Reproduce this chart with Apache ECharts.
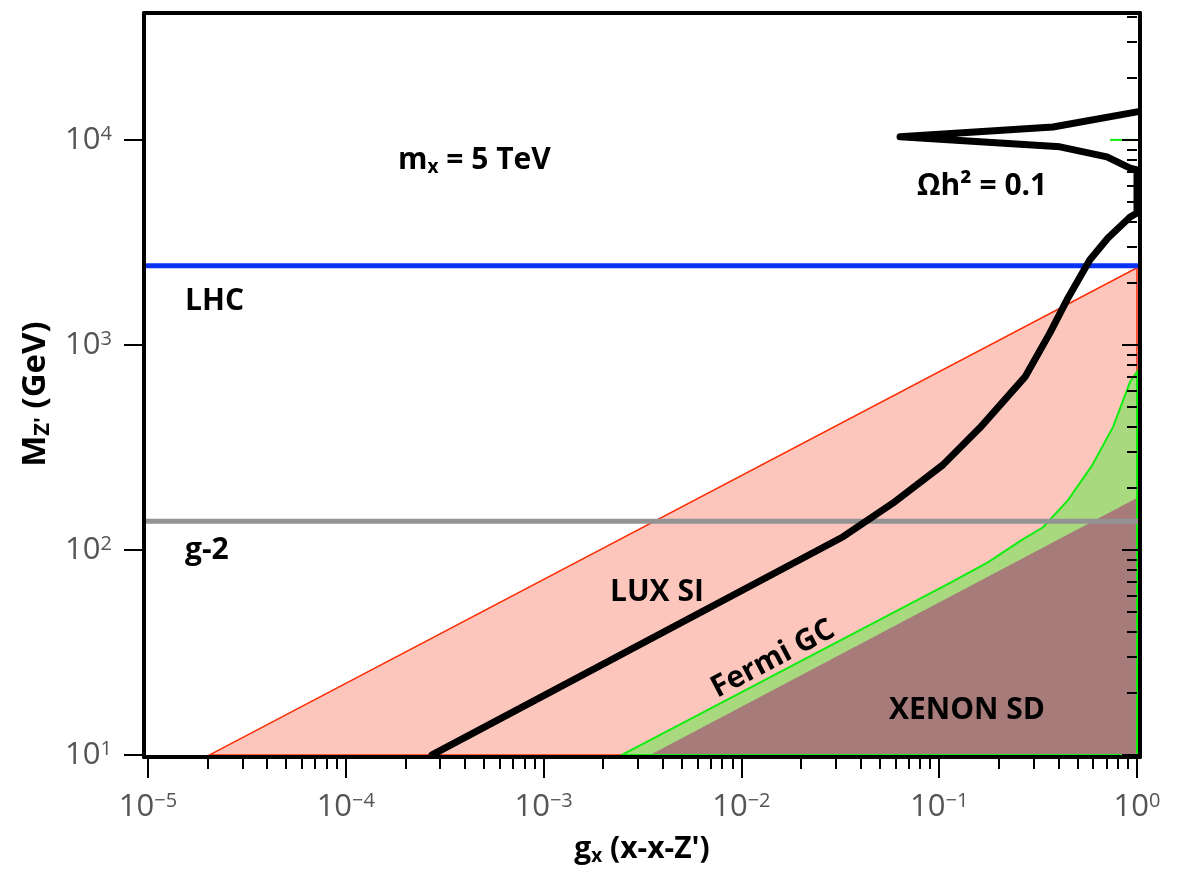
<!DOCTYPE html>
<html><head><meta charset="utf-8">
<script src="https://cdn.jsdelivr.net/npm/echarts@6/dist/echarts.min.js"></script>
<style>html,body{margin:0;padding:0;background:#fff}#c{width:1190px;height:875px}</style>
</head><body><div id="c"></div>
<script>
// ---------------- data ----------------
const xTickExps = [-5, -4, -3, -2, -1, 0];
const yTickExps = [1, 2, 3, 4];
const minorMultiples = [2, 3, 4, 5, 6, 7, 8, 9];

const xRange = [9.546e-6, 1.0356];
const yRange = [9.772, 41590];

// LUX SI excluded region (g_x, M_Z')
const luxG = [2.05e-5, 1.0, 1.0];
const luxM = [10, 2380, 10];

// Fermi GC region
const fermiG = [2.49e-3, 0.1135, 0.177, 0.262, 0.335, 0.448, 0.591, 0.757, 0.923, 1.0, 1.0];
const fermiM = [10, 69.0, 87.3, 112, 129, 175, 257, 398, 661, 738, 10];

// XENON SD region
const xenonG = [3.45e-3, 1.0, 1.0];
const xenonM = [10, 179, 10];

// relic density contour Omega h^2 = 0.1
const relicG = [2.73e-4, 0.0327, 0.0583, 0.1044, 0.1606, 0.2716, 0.363, 0.4426, 0.578, 0.713, 0.923, 1.0, 1.0, 0.923, 0.705, 0.408, 0.0634, 0.376, 1.0];
const relicM = [10, 116, 169, 260, 394, 698, 1145, 1660, 2600, 3325, 4210, 4400, 7140, 7290, 8260, 9250, 10350, 11560, 13700];

// small green stub near 10^4
const stubG = [0.731, 1.0];
const stubM = [10000, 10000];

const lhcM = 2430;
const g2M = 138;

// ---------------- build ----------------
const L = Math.log10;
const xmin = L(xRange[0]), xmax = L(xRange[1]);
const ymin = L(yRange[0]), ymax = L(yRange[1]);
function pts(gs, ms) { return gs.map((g, i) => [L(g), L(ms[i])]); }
function minorTicks(lo, hi) {
  const out = [];
  for (let d = Math.floor(lo) - 1; d <= Math.ceil(hi); d++) {
    for (const k of minorMultiples) { const v = d + L(k); if (v > lo && v < hi) out.push(v); }
  }
  return out;
}
const xMinor = minorTicks(xmin, xmax);
const yMinor = minorTicks(ymin, ymax);

const FONT = 'Open Sans';
const tickRich = {
  b: { fontSize: 31, fontFamily: FONT, color: '#555', lineHeight: 36 },
  s: { fontSize: 20, fontFamily: FONT, color: '#555', lineHeight: 36, padding: [0, 0, 12, 0] }
};
function expFmt(v) {
  const e = Math.round(v);
  return '{b|10}{s|' + (e < 0 ? '\u2212' + (-e) : e) + '}';
}
const tickLine = { color: '#000', width: 2 };
const frameLine = { show: true, onZero: false, lineStyle: { color: '#000', width: 4 } };

function polygonSeries(gs, ms, fill, stroke, lw, z) {
  const data = pts(gs, ms);
  return {
    type: 'custom', data: data, z: z, silent: true,
    renderItem: function (params, api) {
      if (params.dataIndex !== 0) return null;
      const points = data.map(p => api.coord(p));
      return { type: 'polygon', shape: { points: points },
        style: { fill: fill, stroke: stroke, lineWidth: lw, lineJoin: 'miter' } };
    }
  };
}

const boldRich = {
  a: { fontSize: 30, fontWeight: 'bold', fontFamily: FONT, color: '#000', lineHeight: 36 },
  s: { fontSize: 19, fontWeight: 'bold', fontFamily: FONT, color: '#000', lineHeight: 36, padding: [16, 0, 0, 0] }
};
const yNameRich = {
  a: { fontSize: 33, fontWeight: 'bold', fontFamily: FONT, color: '#000', lineHeight: 38 },
  e: { fontSize: 33, fontWeight: 'bold', fontFamily: FONT, color: '#000', lineHeight: 38, padding: [0, 18, 0, 0] },
  s: { fontSize: 22, fontWeight: 'bold', fontFamily: FONT, color: '#000', lineHeight: 38, padding: [16, 0, 0, 0] }
};
function label(x, y, text, extra) {
  return Object.assign({
    type: 'text', x: x, y: y, z: 50, silent: true,
    style: { text: text, rich: boldRich, font: 'bold 30px "Open Sans"', fill: '#000',
      align: 'left', verticalAlign: 'middle' }
  }, extra || {});
}

const option = {
  animation: false,
  backgroundColor: '#fff',
  grid: { left: 144, right: 50, top: 13, bottom: 118, show: false },
  xAxis: [
    { type: 'value', min: xmin, max: xmax, position: 'bottom', z: 10,
      axisLine: frameLine,
      axisTick: { show: true, customValues: xTickExps, length: 21, lineStyle: tickLine },
      axisLabel: { customValues: xTickExps, formatter: expFmt, rich: tickRich, margin: 32 },
      splitLine: { show: false },
      name: '{a|g}{s|x}{a| (x-x-Z\')}', nameLocation: 'middle', nameGap: 74,
      nameTextStyle: { rich: boldRich } },
    { type: 'value', min: xmin, max: xmax, position: 'bottom', z: 10,
      axisLine: { show: false },
      axisTick: { show: true, customValues: xMinor, length: 12, lineStyle: tickLine },
      axisLabel: { show: false }, splitLine: { show: false } },
    { type: 'value', min: xmin, max: xmax, position: 'top', z: 10,
      axisLine: frameLine, axisTick: { show: false }, axisLabel: { show: false }, splitLine: { show: false } }
  ],
  yAxis: [
    { type: 'value', min: ymin, max: ymax, position: 'left', z: 10,
      axisLine: frameLine,
      axisTick: { show: true, customValues: yTickExps, length: 20, lineStyle: tickLine },
      axisLabel: { customValues: yTickExps, formatter: expFmt, rich: tickRich, margin: 32 },
      splitLine: { show: false },
      name: '{a|M}{s|Z\'}{e| (GeV)}', nameLocation: 'middle', nameGap: 78, nameRotate: 90,
      nameTextStyle: { rich: yNameRich } },
    { type: 'value', min: ymin, max: ymax, position: 'left', z: 10,
      axisLine: { show: false },
      axisTick: { show: true, customValues: yMinor, length: 10, lineStyle: tickLine },
      axisLabel: { show: false }, splitLine: { show: false } },
    { type: 'value', min: ymin, max: ymax, position: 'right', z: 10,
      axisLine: frameLine,
      axisTick: { show: true, inside: true, customValues: yTickExps, length: 18, lineStyle: tickLine },
      axisLabel: { show: false }, splitLine: { show: false } },
    { type: 'value', min: ymin, max: ymax, position: 'right', z: 10,
      axisLine: { show: false },
      axisTick: { show: true, inside: true, customValues: yMinor, length: 10, lineStyle: tickLine },
      axisLabel: { show: false }, splitLine: { show: false } }
  ],
  series: [
    polygonSeries(luxG, luxM, '#fcc6bd', '#ff2a00', 1.5, 1),
    polygonSeries(fermiG, fermiM, '#a8d97f', null, 0, 2),
    polygonSeries(xenonG, xenonM, '#a67b7a', null, 0, 3),
    polygonSeries(fermiG, fermiM, 'none', '#10ee10', 2, 4),
    { type: 'line', data: pts(stubG, stubM), symbol: 'none', z: 4,
      lineStyle: { color: '#10ee10', width: 2 } },
    { type: 'line', data: pts(xRange, [lhcM, lhcM]), symbol: 'none', z: 5,
      lineStyle: { color: '#0a32f5', width: 5 } },
    { type: 'line', data: pts(xRange, [g2M, g2M]), symbol: 'none', z: 5,
      lineStyle: { color: '#939393', width: 5 } },
    { type: 'line', data: pts(relicG, relicM), symbol: 'none', z: 6,
      lineStyle: { color: '#000', width: 7, join: 'round', cap: 'round' } }
  ],
  graphic: [
    label(398, 160, '{a|m}{s|x}{a| = 5 TeV}'),
    label(917, 186, '{a|\u03A9h\u00B2 = 0.1}'),
    label(185, 301, '{a|LHC}'),
    label(185, 550, '{a|g-2}'),
    label(610, 592, '{a|LUX SI}'),
    label(889, 710, '{a|XENON SD}'),
    label(773, 659, '{a|Fermi GC}', { rotation: 0.483, style: { text: '{a|Fermi GC}', rich: boldRich, align: 'center', verticalAlign: 'middle' } })
  ]
};

const chart = echarts.init(document.getElementById('c'), null, { renderer: 'canvas' });
chart.setOption(option);
</script>
</body></html>
